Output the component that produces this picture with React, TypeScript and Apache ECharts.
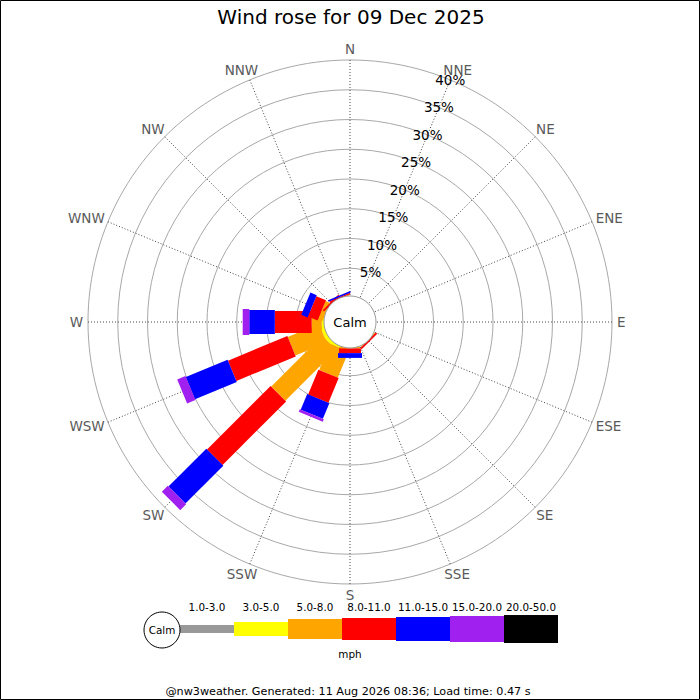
import React, { useEffect, useRef } from 'react';
import * as echarts from 'echarts';

const TITLE = 'Wind rose for 09 Dec 2025';
const FOOTER = '@nw3weather. Generated: 11 Aug 2026 08:36; Load time: 0.47 s';
const UNIT = 'mph';

const DIRECTIONS = ['N', 'NNE', 'NE', 'ENE', 'E', 'ESE', 'SE', 'SSE', 'S', 'SSW', 'SW', 'WSW', 'W', 'WNW', 'NW', 'NNW'];
const SPEED_BANDS = ['1.0-3.0', '3.0-5.0', '5.0-8.0', '8.0-11.0', '11.0-15.0', '15.0-20.0', '20.0-50.0'];
const BAND_COLORS = ['#999999', '#ffff00', '#ffa500', '#ff0000', '#0000ff', '#a020f0', '#000000'];

// percentage of the day in each speed band, per direction (N .. NNW)
const band1to3 = [0, 0, 0, 0, 0, 0, 0.05, 0, 0.05, 0.1, 0.2, 0.2, 0.1, 0.05, 0.05, 0.05];
const band3to5 = [0, 0, 0, 0, 0, 0, 0.1, 0, 0.1, 0.5, 0.7, 0.7, 0.6, 0.25, 0.1, 0.1];
const band5to8 = [0, 0, 0, 0, 0, 0, 0.15, 0, 0.25, 4.8, 12.1, 5.7, 1.7, 0.8, 0.15, 0.15];
const band8to11 = [0, 0, 0, 0, 0, 0, 0.3, 0, 0.8, 4.5, 15.1, 10.8, 6.2, 1.75, 0.3, 0.2];
const band11to15 = [0, 0, 0, 0, 0, 0, 0, 0, 0.8, 2.85, 9.0, 7.6, 4.3, 1.15, 0, 0.25];
const band15to20 = [0, 0, 0, 0, 0, 0, 0, 0, 0, 0.45, 1.4, 1.5, 1.1, 0, 0, 0];
const band20to50 = [0, 0, 0, 0, 0, 0, 0, 0, 0, 0, 0, 0, 0, 0, 0, 0];
const BAND_VALUES = [band1to3, band3to5, band5to8, band8to11, band11to15, band15to20, band20to50];

const RADIUS_TICKS = [5, 10, 15, 20, 25, 30, 35, 40];
const RMAX = 40;

// styling
const BAR_WIDTHS = [8, 14, 20, 22, 24, 26, 28];
const FONT = 'DejaVu Sans';
const DIR_FONT_SIZE = 13.5;

let measureCtx: CanvasRenderingContext2D | null = null;
function textWidth(text: string, size: number): number {
  try {
    if (!measureCtx) measureCtx = document.createElement('canvas').getContext('2d');
    if (measureCtx) {
      measureCtx.font = `${size}px "${FONT}"`;
      return measureCtx.measureText(text).width;
    }
  } catch (e) {
    /* ignore */
  }
  return text.length * size * 0.7;
}

const centered = { align: 'center', verticalAlign: 'middle', textAlign: 'center', textVerticalAlign: 'middle' };

export default function App() {
  const ref = useRef<HTMLDivElement>(null);

  useEffect(() => {
    document.body.style.margin = '0';
    const chart = echarts.init(ref.current as HTMLDivElement, null, { renderer: 'svg' });

    const step = 360 / DIRECTIONS.length;
    // drawn band by band so faster bands lie over slower ones
    const barData: number[][] = [];
    const cums = DIRECTIONS.map(() => 0);
    BAND_VALUES.forEach((arr, b) => {
      DIRECTIONS.forEach((_d, i) => {
        const v = arr[i];
        if (v > 0) barData.push([cums[i] + v, i * step, cums[i], b]);
        cums[i] += v;
      });
    });

    const legendX0 = 180;
    const legendW = 54;
    const legendCY = 629;
    const legendGraphics: any[] = [];
    SPEED_BANDS.forEach((lab, b) => {
      const h = BAR_WIDTHS[b];
      legendGraphics.push({
        type: 'rect',
        shape: { x: legendX0 + b * legendW, y: legendCY - h / 2, width: legendW, height: h },
        style: { fill: BAND_COLORS[b] },
      });
      legendGraphics.push({
        type: 'text',
        x: legendX0 + b * legendW + legendW / 2,
        y: 607,
        style: { text: lab, fill: '#000', fontSize: 10.4, fontFamily: FONT, ...centered },
      });
    });

    const option: any = {
      animation: false,
      backgroundColor: '#ffffff',
      polar: { center: [350, 322], radius: [24, 262] },
      angleAxis: {
        type: 'value',
        min: 0,
        max: 360,
        interval: 22.5,
        startAngle: 90,
        clockwise: true,
        axisLine: { show: false },
        axisTick: { show: false },
        axisLabel: { show: false },
        splitLine: { show: true, lineStyle: { color: '#444', type: [1, 2], width: 1 } },
      },
      radiusAxis: {
        type: 'value',
        min: 0,
        max: RMAX,
        interval: 5,
        axisLine: { show: false },
        axisTick: { show: false },
        axisLabel: { show: false },
        splitLine: { show: true, lineStyle: { color: '#a8a8a8', width: 1 } },
      },
      series: [
        {
          type: 'custom',
          name: 'bars',
          coordinateSystem: 'polar',
          dimensions: ['r1', 'angle', 'r0', 'band'],
          encode: { radius: 0, angle: 1 },
          z: 3,
          silent: true,
          data: barData,
          renderItem: (params: any, api: any) => {
            const r1 = api.value(0);
            const ang = api.value(1);
            const r0 = api.value(2);
            const b = api.value(3);
            const cs = params.coordSys;
            const p0 = api.coord([r0, ang]);
            const p1 = api.coord([r1, ang]);
            const far = api.coord([RMAX, ang]);
            let ux = far[0] - cs.cx;
            let uy = far[1] - cs.cy;
            const len = Math.hypot(ux, uy) || 1;
            ux /= len;
            uy /= len;
            const nx = -uy;
            const ny = ux;
            const hw = BAR_WIDTHS[b] / 2;
            return {
              type: 'polygon',
              shape: {
                points: [
                  [p0[0] + nx * hw, p0[1] + ny * hw],
                  [p1[0] + nx * hw, p1[1] + ny * hw],
                  [p1[0] - nx * hw, p1[1] - ny * hw],
                  [p0[0] - nx * hw, p0[1] - ny * hw],
                ],
              },
              style: { fill: BAND_COLORS[b], stroke: null },
            };
          },
        },
        {
          type: 'custom',
          name: 'calm',
          coordinateSystem: 'polar',
          encode: { radius: 0, angle: 1 },
          z: 5,
          silent: true,
          data: [[0, 0]],
          renderItem: (params: any) => {
            const cs = params.coordSys;
            return {
              type: 'group',
              children: [
                {
                  type: 'circle',
                  shape: { cx: cs.cx, cy: cs.cy, r: cs.r0 + 2 },
                  style: { fill: '#ffffff', stroke: '#999999', lineWidth: 1 },
                },
                {
                  type: 'text',
                  x: cs.cx,
                  y: cs.cy,
                  style: { text: 'Calm', fill: '#000', fontSize: 13, fontFamily: FONT, ...centered },
                },
              ],
            };
          },
        },
        {
          type: 'custom',
          name: 'ringLabels',
          coordinateSystem: 'polar',
          encode: { radius: 0, angle: 1 },
          z: 6,
          silent: true,
          data: RADIUS_TICKS.map((v) => [v, step]),
          renderItem: (_params: any, api: any) => {
            const v = api.value(0);
            const p = api.coord([v, api.value(1)]);
            return {
              type: 'text',
              x: p[0],
              y: p[1],
              style: { text: v + '%', fill: '#000', fontSize: 13.5, fontFamily: FONT, ...centered },
            };
          },
        },
        {
          type: 'custom',
          name: 'dirLabels',
          coordinateSystem: 'polar',
          encode: { radius: 0, angle: 1 },
          z: 6,
          silent: true,
          data: DIRECTIONS.map((_d, i) => [RMAX, i * step, i]),
          renderItem: (params: any, api: any) => {
            const cs = params.coordSys;
            const ang = api.value(1);
            const idx = api.value(2);
            const label = DIRECTIONS[idx];
            const rr = cs.r + 5;
            const t = (ang * Math.PI) / 180;
            const s = Math.sin(t);
            const c = Math.cos(t);
            const w = textWidth(label, DIR_FONT_SIZE);
            const h = 12;
            return {
              type: 'text',
              x: cs.cx + rr * s + (w / 2) * s,
              y: cs.cy - rr * c - (h / 2) * c,
              style: { text: label, fill: '#5a5a5a', fontSize: DIR_FONT_SIZE, fontFamily: FONT, ...centered },
            };
          },
        },
      ],
      graphic: [
        {
          type: 'rect',
          z: 100,
          shape: { x: 0.5, y: 0.5, width: 699, height: 699 },
          style: { fill: 'none', stroke: '#000', lineWidth: 1 },
        },
        {
          type: 'text',
          x: 351,
          y: 17,
          style: { text: TITLE, fill: '#000', fontSize: 20, fontFamily: FONT, ...centered },
        },
        ...legendGraphics,
        {
          type: 'circle',
          shape: { cx: 162, cy: 630, r: 18 },
          style: { fill: '#fff', stroke: '#000', lineWidth: 1 },
        },
        {
          type: 'text',
          x: 162,
          y: 630,
          style: { text: 'Calm', fill: '#000', fontSize: 10.4, fontFamily: FONT, ...centered },
        },
        {
          type: 'text',
          x: 350,
          y: 654,
          style: { text: UNIT, fill: '#000', fontSize: 10.4, fontFamily: FONT, ...centered },
        },
        {
          type: 'text',
          x: 348,
          y: 691,
          style: { text: FOOTER, fill: '#000', fontSize: 11.2, fontFamily: FONT, ...centered },
        },
      ],
    };

    chart.setOption(option);
    return () => chart.dispose();
  }, []);

  return <div ref={ref} style={{ width: 700, height: 700 }} />;
}
